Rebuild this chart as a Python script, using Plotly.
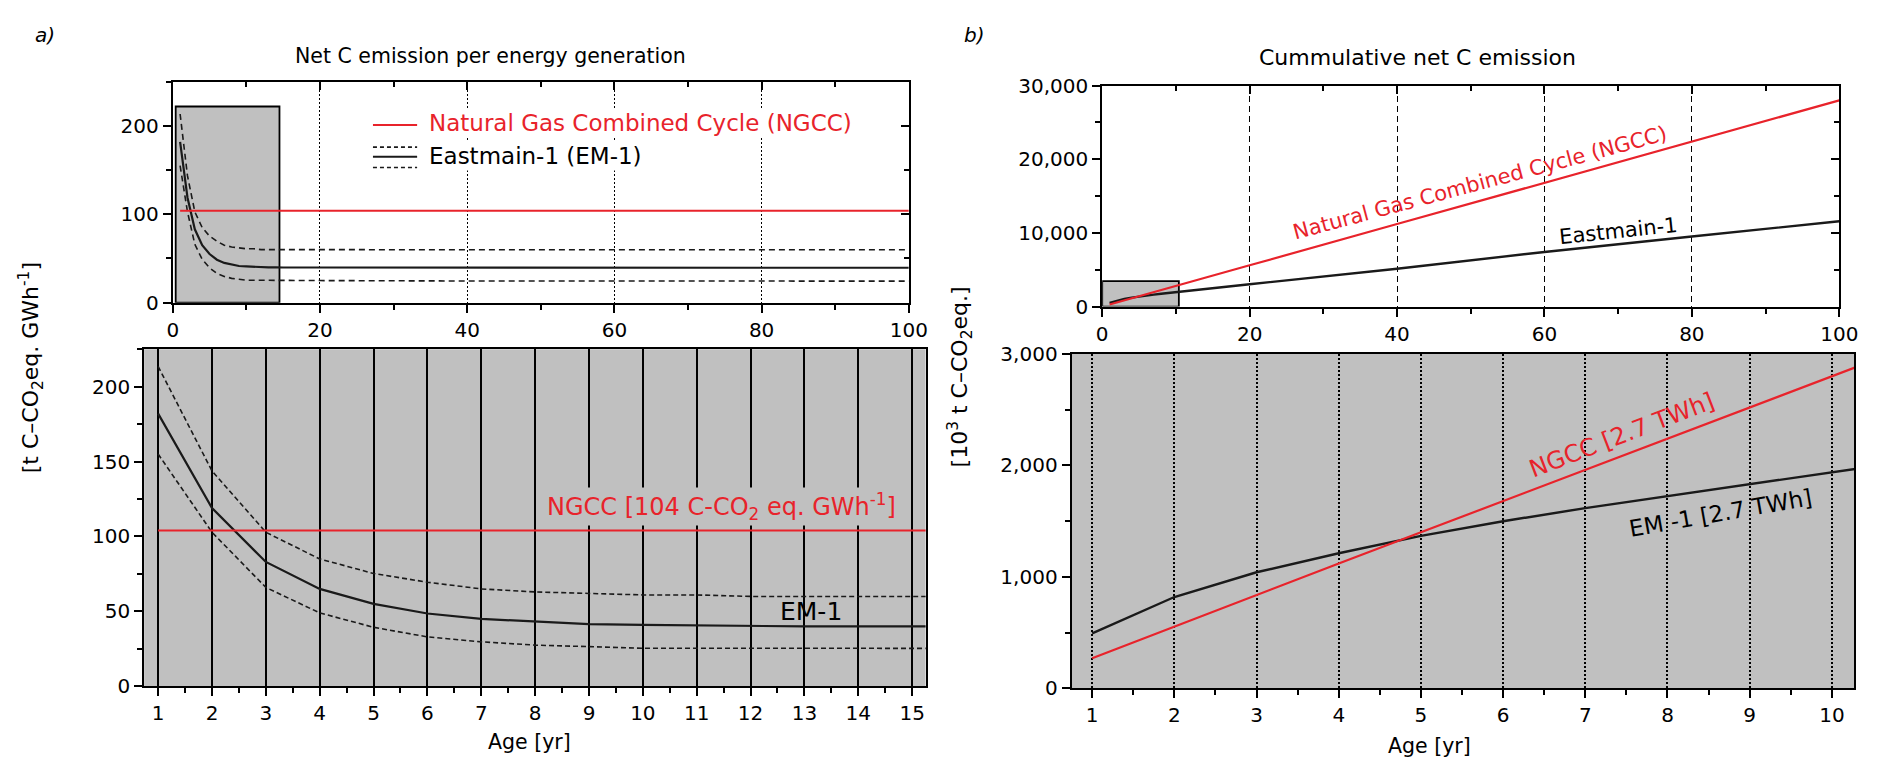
import plotly.graph_objects as go

W, H = 1878, 771
FONT = "DejaVu Sans, Liberation Sans, Arial, sans-serif"
RED = "#e8232b"
GRAY = "rgb(192,192,192)"
INK = "#1a1a1a"

# ---------------- data ----------------
# Net C emission per energy generation [t C-CO2eq. GWh-1]
ages = [1, 2, 3, 4, 5, 6, 7, 8, 9, 10, 11, 12, 13, 14, 15, 20, 40, 60, 80, 100]
em_central = [182, 119, 83, 65, 55, 48.6, 45, 43, 41.5, 41, 40.5, 40.5, 40, 40, 39.8,
              39.8, 39.5, 39.5, 39.5, 39.5]
em_upper = [213.5, 143.7, 102.8, 85, 75.3, 69.5, 65, 63, 62, 61, 61, 60, 60, 60, 59.8,
            59.8, 59.8, 59.8, 59.8, 59.8]
em_lower = [155, 102.8, 66, 49, 39.4, 33, 29.7, 27.5, 26.5, 25.4, 25.4, 25.4, 25.4, 25.4, 25.4,
            25, 24.5, 24.4, 24.4, 24.4]
ngcc_ages = [1, 100]
ngcc_rate = [104, 104]

# Cumulative net C emission [10^3 t C-CO2eq.]
cum_ages = [1, 2, 3, 4, 5, 6, 7, 8, 9, 10, 20, 40, 60, 80, 100]
em_cum = [492, 819, 1041, 1212, 1368, 1499, 1617, 1730, 1843, 1958,
          3026, 5132, 7412, 9518, 11579]
ngcc_cum = [270, 555, 838, 1120, 1400, 1680, 1960, 2240, 2520, 2800,
            5600, 11200, 16800, 22400, 28000]


def px(x):
    return x / W


def py(y):
    return 1 - y / H


fig = go.Figure()

# ---------------- traces ----------------
for xa, ya, dash in (("x", "y", "6px,4px"), ("x2", "y2", "5px,3px")):
    fig.add_trace(go.Scatter(x=ages, y=em_upper, mode="lines", xaxis=xa, yaxis=ya,
                             line=dict(color=INK, width=1.6, dash=dash), showlegend=False))
    fig.add_trace(go.Scatter(x=ages, y=em_lower, mode="lines", xaxis=xa, yaxis=ya,
                             line=dict(color=INK, width=1.6, dash=dash), showlegend=False))
    fig.add_trace(go.Scatter(x=ages, y=em_central, mode="lines", xaxis=xa, yaxis=ya,
                             line=dict(color=INK, width=2.2), showlegend=False))
    fig.add_trace(go.Scatter(x=ngcc_ages, y=ngcc_rate, mode="lines", xaxis=xa, yaxis=ya,
                             line=dict(color=RED, width=2.2), showlegend=False))

for xa, ya in (("x3", "y3"), ("x4", "y4")):
    fig.add_trace(go.Scatter(x=cum_ages, y=em_cum, mode="lines", xaxis=xa, yaxis=ya,
                             line=dict(color=INK, width=2.4), showlegend=False))
    fig.add_trace(go.Scatter(x=cum_ages, y=ngcc_cum, mode="lines", xaxis=xa, yaxis=ya,
                             line=dict(color=RED, width=2.2), showlegend=False))

# empty traces so that the inner (top/right) tick axes of the overview panels exist
fig.add_trace(go.Scatter(x=[], y=[], xaxis="x5", yaxis="y5", showlegend=False))
fig.add_trace(go.Scatter(x=[], y=[], xaxis="x6", yaxis="y6", showlegend=False))

# ---------------- axes ----------------
tickfont = dict(family=FONT, size=20, color="black")
common = dict(showline=True, linecolor="black", linewidth=2, ticks="outside",
              ticklen=8, tickwidth=1.5, tickcolor="black", tickfont=tickfont,
              zeroline=False, fixedrange=True)


def minor(dt, t0=0, where="outside"):
    return dict(dtick=dt, tick0=t0, ticks=where, ticklen=5, tickwidth=1.5,
                tickcolor="black", showgrid=False)


def inner(dom, rng, dt, mdt, side, overlay, anchor):
    return dict(domain=dom, range=rng, tick0=0, dtick=dt, minor=minor(mdt, 0, "inside"),
                ticks="inside", ticklen=8, tickwidth=1.5, tickcolor="black",
                showticklabels=False, showline=False, showgrid=False, zeroline=False,
                side=side, overlaying=overlay, anchor=anchor, fixedrange=True)


TL_X, TL_Y = [px(169), px(915)], [py(300), py(72)]
BL_X, BL_Y = [px(140), px(932)], [py(696), py(348)]
TR_X, TR_Y = [px(1111), px(1858)], [py(304), py(76)]
BR_X, BR_Y = [px(1080), px(1873)], [py(698), py(353)]

fig.update_layout(
    xaxis=dict(common, domain=TL_X, anchor="y", range=[0, 100],
               tick0=0, dtick=20, minor=minor(10), mirror=True,
               showgrid=True, gridcolor="black", gridwidth=1, griddash="2px,2px"),
    yaxis=dict(common, domain=TL_Y, anchor="x", range=[0, 250],
               tick0=0, dtick=100, minor=minor(50), mirror=True, showgrid=False),
    xaxis5=inner(TL_X, [0, 100], 20, 10, "top", "x", "y"),
    yaxis5=inner(TL_Y, [0, 250], 100, 50, "right", "y", "x"),
    xaxis2=dict(common, domain=BL_X, anchor="y2", range=[0.74, 15.25],
                tick0=1, dtick=1, minor=minor(0.5, 0.5), mirror=True,
                showgrid=True, gridcolor="black", gridwidth=1.5),
    yaxis2=dict(common, domain=BL_Y, anchor="x2", range=[0, 225],
                tick0=0, dtick=50, minor=minor(25), mirror=True, showgrid=False),
    xaxis3=dict(common, domain=TR_X, anchor="y3", range=[0, 100],
                tick0=0, dtick=20, minor=minor(10), mirror=True,
                showgrid=True, gridcolor="black", gridwidth=1, griddash="6px,4px"),
    yaxis3=dict(common, domain=TR_Y, anchor="x3", range=[0, 30000],
                tick0=0, dtick=10000, minor=minor(5000), mirror=True,
                tickformat=",.0f", showgrid=False),
    xaxis6=inner(TR_X, [0, 100], 20, 10, "top", "x3", "y3"),
    yaxis6=inner(TR_Y, [0, 30000], 10000, 5000, "right", "y3", "x3"),
    xaxis4=dict(common, domain=BR_X, anchor="y4", range=[0.75, 10.27],
                tick0=1, dtick=1, minor=minor(0.5, 0.5), mirror=True,
                showgrid=True, gridcolor="black", gridwidth=1.5, griddash="2px,2px"),
    yaxis4=dict(common, domain=BR_Y, anchor="x4", range=[0, 3000],
                tick0=0, dtick=1000, minor=minor(500), mirror=True,
                tickformat=",.0f", showgrid=False),
)

# ---------------- shapes ----------------
shapes = [
    # grey backgrounds of the zoomed panels
    dict(type="rect", xref="x2 domain", yref="y2 domain", x0=0, x1=1, y0=0, y1=1,
         fillcolor=GRAY, line=dict(width=0), layer="below"),
    dict(type="rect", xref="x4 domain", yref="y4 domain", x0=0, x1=1, y0=0, y1=1,
         fillcolor=GRAY, line=dict(width=0), layer="below"),
    # zoom windows in the overview panels
    dict(type="rect", xref="x", yref="y", x0=0.4, x1=14.5, y0=0, y1=222,
         fillcolor=GRAY, line=dict(color="black", width=1.8), layer="below"),
    dict(type="rect", xref="x3", yref="y3", x0=0, x1=10.4, y0=0, y1=3450,
         fillcolor=GRAY, line=dict(color="black", width=1.8), layer="below"),
    # legend samples (top-left)
    dict(type="line", xref="x", yref="y", x0=27.2, x1=33.2, y0=201, y1=201,
         line=dict(color=RED, width=2)),
    dict(type="line", xref="x", yref="y", x0=27.2, x1=33.2, y0=176, y1=176,
         line=dict(color=INK, width=1.6, dash="4px,3px")),
    dict(type="line", xref="x", yref="y", x0=27.2, x1=33.2, y0=165, y1=165,
         line=dict(color=INK, width=2)),
    dict(type="line", xref="x", yref="y", x0=27.2, x1=33.2, y0=153, y1=153,
         line=dict(color=INK, width=1.6, dash="4px,3px")),
]
fig.update_layout(shapes=shapes)


# ---------------- texts ----------------
def ptext(text, x, y, size=20, angle=0, color="black", **kw):
    return dict(text=text, xref="paper", yref="paper", x=px(x), y=py(y),
                xanchor="center", yanchor="middle", showarrow=False, textangle=angle,
                font=dict(family=FONT, size=size, color=color), **kw)


def dtext(text, xa, ya, x, y, size=20, angle=0, color="black", xanchor="center",
          bg=None):
    d = dict(text=text, xref=xa, yref=ya, x=x, y=y, xanchor=xanchor,
             yanchor="middle", showarrow=False, textangle=angle,
             font=dict(family=FONT, size=size, color=color), borderpad=1)
    if bg:
        d["bgcolor"] = bg
    return d


annotations = [
    ptext("<i>a)</i>", 40, 24, size=20),
    ptext("<i>b)</i>", 982, 24, size=20),
    ptext("Net C emission per energy generation", 491, 45, size=20.5),
    ptext("Cummulative net C emission", 1431, 47, size=22),
    ptext("[t C–CO<sub>2</sub>eq. GWh<sup>-1</sup>]", 25, 367, size=22, angle=-90),
    ptext("[10<sup>3</sup> t C–CO<sub>2</sub>eq.]", 967, 377, size=22, angle=-90),
    ptext("Age [yr]", 531, 753, size=20.5),
    ptext("Age [yr]", 1443, 758, size=20.5),
    # legend (top-left)
    dtext("Natural Gas Combined Cycle (NGCC)", "x", "y", 34.6, 203, size=23,
          color=RED, xanchor="left", bg="white"),
    dtext("Eastmain-1 (EM-1)", "x", "y", 34.6, 166, size=23, xanchor="left",
          bg="white"),
    # bottom-left
    dtext("NGCC [104 C-CO<sub>2</sub> eq. GWh<sup>-1</sup>]", "x2", "y2", 14.74, 120,
          size=24, color=RED, xanchor="right", bg=GRAY),
    dtext("EM-1", "x2", "y2", 13.12, 50, size=25),
    # top-right
    dtext("Natural Gas Combined Cycle (NGCC)", "x3", "y3", 51.2, 16750, size=21,
          angle=-15, color=RED),
    dtext("Eastmain-1", "x3", "y3", 70, 10300, size=21, angle=-6),
    # bottom-right
    dtext("NGCC [2.7 TWh]", "x4", "y4", 7.45, 2270, size=24, angle=-21, color=RED),
    dtext("EM -1 [2.7 TWh]", "x4", "y4", 8.65, 1575, size=23, angle=-10),
]

fig.update_layout(
    annotations=annotations,
    width=W, height=H,
    margin=dict(l=0, r=0, t=0, b=0),
    paper_bgcolor="white",
    plot_bgcolor="white",
    showlegend=False,
    font=dict(family=FONT, color="black"),
)

fig.write_html("out.html", config={"displayModeBar": False})
